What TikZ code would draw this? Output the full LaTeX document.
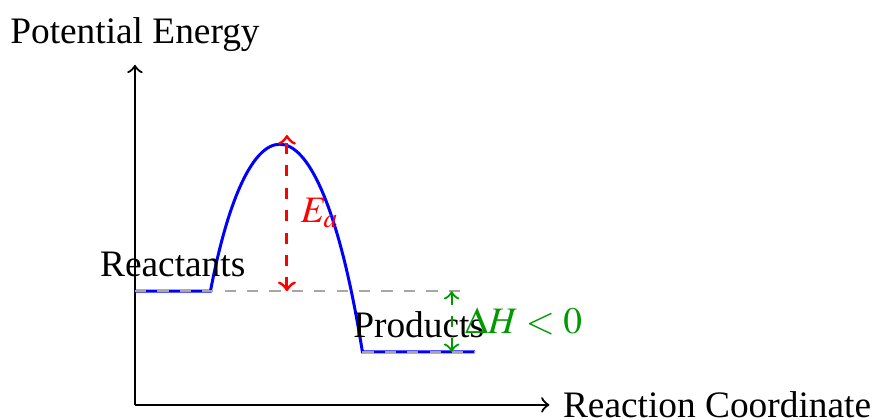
\documentclass[tikz,border=0pt]{standalone}
\usepackage{mathptmx}
\usepackage{fontspec}
\setmainfont{Liberation Serif}
\usepackage{tikz}
\usetikzlibrary{arrows}

\begin{document}
\begin{tikzpicture}[>=to]
        \tikzstyle{axis} = [draw=black, semithick, ->]
        \tikzstyle{curve} = [draw=blue, thick]
        \tikzstyle{guide} = [draw=gray!70, dashed]
        \tikzstyle{gap} = [dashed, thick, <->]
        \useasboundingbox (-1.27,-0.14) rectangle (7.02,3.81);

        \coordinate (origin) at (0,0);
        \coordinate (ytop) at (0,3.20);
        \coordinate (xend) at (3.90,0);
        \coordinate (r1) at (0,1.07);
        \coordinate (r2) at (0.71,1.07);
        \coordinate (p1) at (2.14,0.50);
        \coordinate (p2) at (3.20,0.50);
        \coordinate (rguide) at (3.06,1.07);
        \coordinate (eatop) at (1.43,2.54);
        \coordinate (eabot) at (1.43,1.07);
        \coordinate (dhtop) at (2.98,1.07);
        \coordinate (dhbot) at (2.98,0.50);

        % axes
        \draw [axis] (origin) -- (ytop) node (ylabel) [above] {Potential Energy};
        \draw [axis] (origin) -- (xend) node (xlabel) [right] {Reaction Coordinate};

        % energy profile
        \draw [curve] (r1) -- node (reac) [above, black] {Reactants} (r2)
            .. controls (1.08,3.0) and (1.74,3.0) .. (p1)
            -- node (prod) [above, black] {Products} (p2);

        \draw [guide] (r1) -- (rguide);
        \draw [guide] (p1) -- (p2);

        \draw [gap, red] (eabot) -- node (ea) [right] {$E_a$} (eatop);
        \draw [gap, green!60!black, semithick] (dhtop) -- node (dh) [right] {$\Delta H < 0$} (dhbot);
\end{tikzpicture}
\end{document}
